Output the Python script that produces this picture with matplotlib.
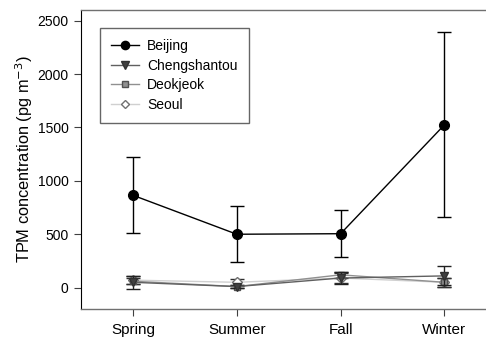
import matplotlib
matplotlib.use("Agg")
import matplotlib.pyplot as plt
import numpy as np

plt.rcParams["font.family"] = ["Liberation Sans", "DejaVu Sans"]

seasons = ["Spring", "Summer", "Fall", "Winter"]

beijing = [865, 500, 505, 1525]
beijing_err_lo = [355, 260, 220, 860]
beijing_err_hi = [355, 260, 220, 865]

chengshantou = [50, 10, 90, 110]
chengshantou_err = [60, 15, 55, 90]

deokjeok = [60, 10, 120, 50]
deokjeok_err = [30, 10, 30, 40]

seoul = [70, 50, 90, 50]
seoul_err = [40, 35, 45, 40]

x = np.arange(len(seasons))

fig = plt.figure(figsize=(4.86, 3.40), dpi=100)
ax = fig.add_axes([0.1667, 0.0912, 0.8333, 0.8794])

# (values, lower err, upper err, line colour, marker, marker face, marker edge, size, label, errorbar colour)
series = [
    (seoul, seoul_err, seoul_err, "#d0d0d0", "D", "white", "#707070", 5, "Seoul", "#303030"),
    (deokjeok, deokjeok_err, deokjeok_err, "#909090", "s", "#909090", "#505050", 5, "Deokjeok", "#303030"),
    (chengshantou, chengshantou_err, chengshantou_err, "#606060", "v", "#404040", "#303030", 6, "Chengshantou", "#202020"),
    (beijing, beijing_err_lo, beijing_err_hi, "black", "o", "black", "black", 7, "Beijing", "black"),
]

handles = {}
for z, (vals, lo, hi, lc, mk, mfc, mec, ms, label, ec) in enumerate(series):
    ax.errorbar(x, vals, yerr=[lo, hi], fmt="none", ecolor=ec,
                capsize=5, elinewidth=1.0, capthick=1.0, zorder=2 + z)
    (line,) = ax.plot(x, vals, color=lc, marker=mk, markersize=ms, mfc=mfc,
                      mec=mec, lw=1.0, label=label, zorder=2.5 + z)
    handles[label] = line

ax.set_xlim(-0.5, 3.4)
ax.set_ylim(-200, 2600)
ax.set_xticks(x)
ax.set_xticklabels(seasons, fontsize=11)
ax.set_yticks([0, 500, 1000, 1500, 2000, 2500])
ax.tick_params(axis="y", labelsize=10, direction="out", length=5, pad=4, color="#404040")
ax.tick_params(axis="x", direction="out", length=5, color="#404040", pad=5)
ax.set_ylabel("TPM concentration (pg m$^{-3}$)", fontsize=11.75, labelpad=2)

for side in ("top", "bottom"):
    ax.spines[side].set_color("#707070")
    ax.spines[side].set_linewidth(1.0)
ax.spines["left"].set_color("black")
ax.spines["right"].set_visible(False)

names = ["Beijing", "Chengshantou", "Deokjeok", "Seoul"]
leg = ax.legend([handles[n] for n in names], names,
                loc="upper left", bbox_to_anchor=(0.047, 0.94), fontsize=10,
                frameon=True, fancybox=False, edgecolor="#404040",
                handlelength=2.0, handletextpad=0.6, borderpad=0.8,
                labelspacing=0.4, borderaxespad=0, markerscale=0.85)
leg.get_frame().set_linewidth(1.0)

fig.savefig("out.png", dpi=100)
